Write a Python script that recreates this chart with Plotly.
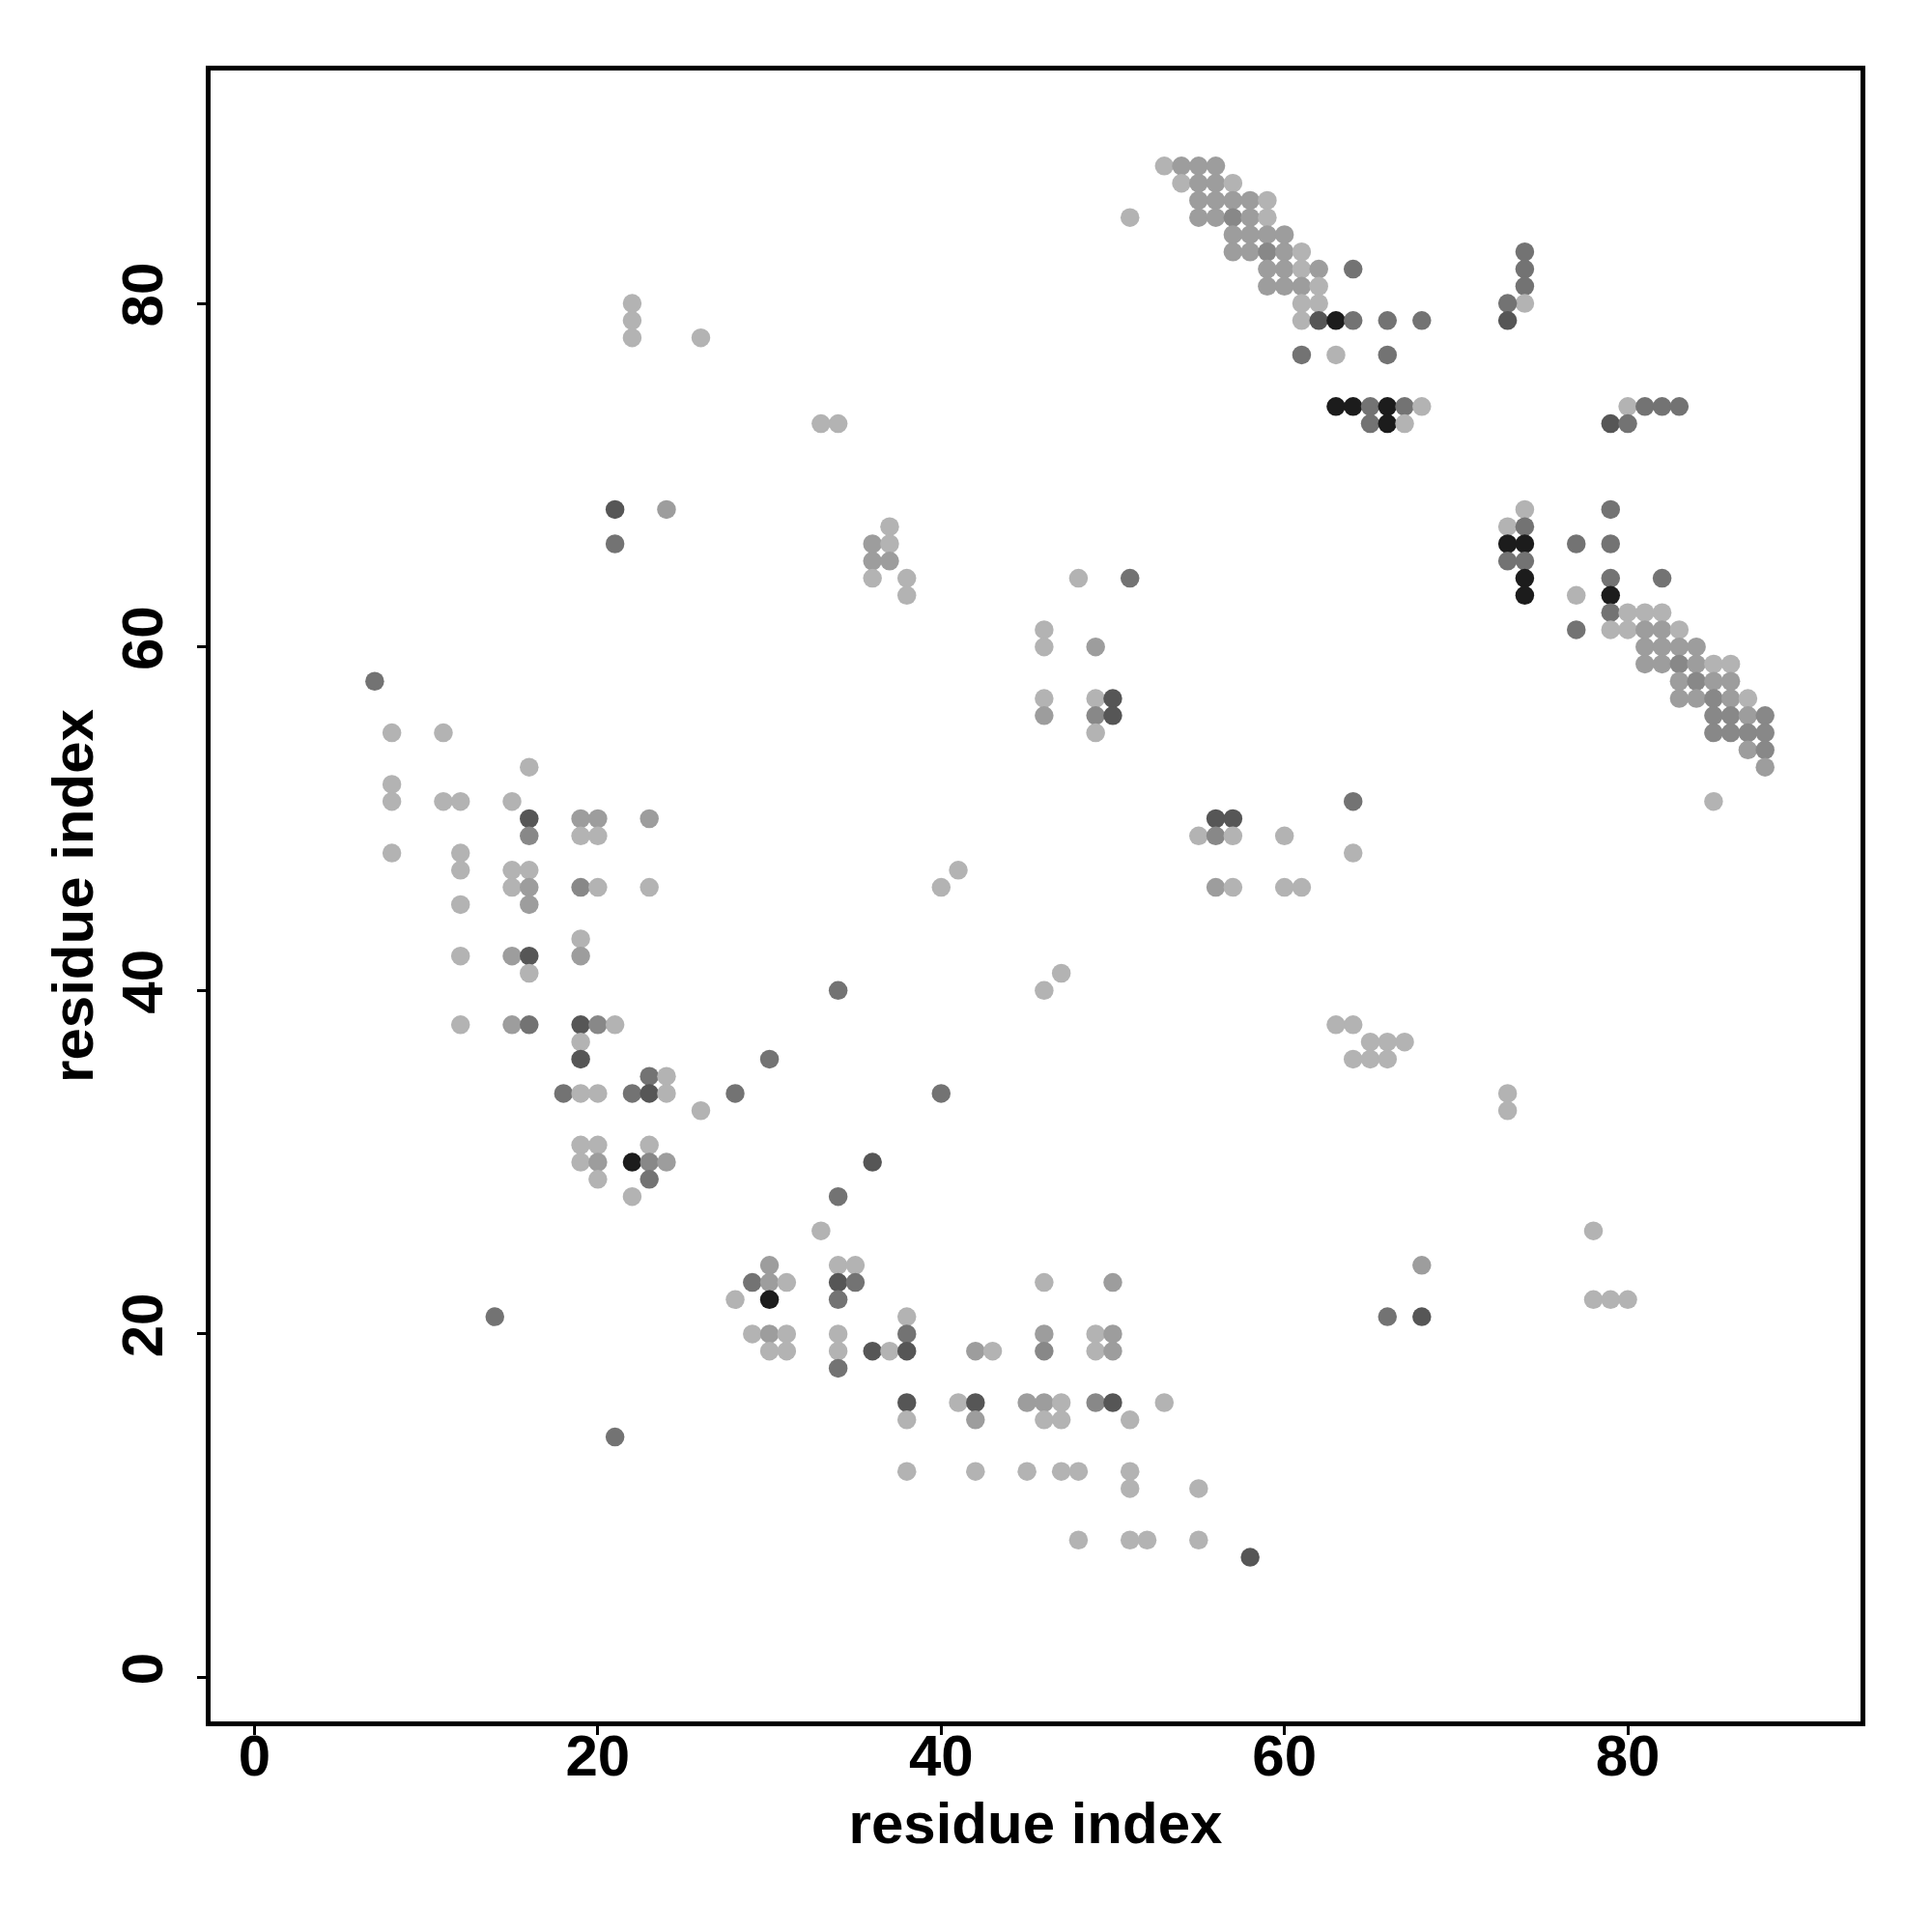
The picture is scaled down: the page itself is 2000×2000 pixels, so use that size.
import plotly.graph_objects as go

# contact map points: residue i (x), residue j (y), grey level (1 light .. 6 black)
x_res = [
    53, 54, 55, 56, 54, 55, 56, 57, 55, 56, 57, 58, 59, 55, 56, 57, 58, 59,
    57, 58, 59, 60, 57, 58, 59, 60, 61, 59, 60, 61, 62, 64, 59, 60, 61, 62,
    61, 62, 61, 62, 63, 64, 66, 68, 61, 63, 66, 63, 64, 65, 66, 67, 68, 65, 66, 67, 51,
    74, 74, 74, 74, 73, 73, 80, 81, 82, 83, 79, 80,
    74, 79, 73, 74, 73, 74, 77, 79, 73, 74, 74, 79, 82, 74, 77, 79,
    79, 80, 81, 82, 77, 79, 80, 81, 82, 83, 81, 82, 83, 84,
    81, 82, 83, 84, 85, 86, 83, 84, 85, 86, 83, 84, 85, 86, 87,
    85, 86, 87, 88, 85, 86, 87, 88, 87, 88, 88, 85,
    21, 24, 21, 37, 36, 37, 36, 37, 36, 38, 38, 22, 22, 22, 26, 33, 34,
    48, 51, 46, 46, 49, 46, 46, 49, 49, 49, 50, 50,
    56, 57, 55, 56, 57, 60, 56, 57, 60, 61, 64, 64, 41, 40, 47, 46,
    63, 64, 65, 66, 67, 64, 65, 66,
    7, 8, 11, 16, 8, 8, 11, 12, 15, 16, 19, 20, 23, 16, 19, 20, 8, 12,
    12, 15, 16, 15, 16, 19, 20, 23, 12, 16, 19, 12, 15, 16, 19, 16,
    12, 15, 16, 19, 20, 21, 19, 19, 23, 24, 18, 19, 20, 22, 23, 24, 28,
    26, 19, 20, 23, 19, 20, 22, 23, 24, 20, 23, 22,
    30, 40, 36, 34, 34, 33, 14, 21,
    30, 34, 35, 29, 30, 31, 34, 35, 28, 30, 34, 38, 29, 30, 31, 34, 38,
    30, 31, 34, 36, 37, 38, 34, 38, 38, 38,
    41, 42, 42, 42, 42, 43, 45, 46, 47, 46, 47, 45, 47, 48,
    46, 46, 46, 49, 50, 49, 50, 50, 49, 50, 53, 51, 51, 51, 55,
    48, 51, 52, 55, 58,
    66, 68, 68, 78, 78, 79, 80, 73, 73,
]
y_res = [
    88, 88, 88, 88, 87, 87, 87, 87, 86, 86, 86, 86, 86, 85, 85, 85, 85, 85,
    84, 84, 84, 84, 83, 83, 83, 83, 83, 82, 82, 82, 82, 82, 81, 81, 81, 81,
    80, 80, 79, 79, 79, 79, 79, 79, 77, 77, 77, 74, 74, 74, 74, 74, 74, 73, 73, 73, 85,
    83, 82, 81, 80, 80, 79, 74, 74, 74, 74, 73, 73,
    68, 68, 67, 67, 66, 66, 66, 66, 65, 65, 64, 64, 64, 63, 63, 63,
    62, 62, 62, 62, 61, 61, 61, 61, 61, 61, 60, 60, 60, 60,
    59, 59, 59, 59, 59, 59, 58, 58, 58, 58, 57, 57, 57, 57, 57,
    56, 56, 56, 56, 55, 55, 55, 55, 54, 54, 53, 51,
    68, 68, 66, 67, 66, 66, 65, 65, 64, 64, 63, 80, 79, 78, 78, 73, 73,
    64, 64, 61, 60, 60, 57, 56, 57, 56, 55, 57, 56,
    50, 50, 49, 49, 49, 49, 46, 46, 46, 46, 51, 48, 47, 46, 41, 40,
    38, 38, 37, 37, 37, 36, 36, 36,
    58, 55, 55, 53, 52, 51, 51, 51, 51, 50, 50, 50, 50, 49, 49, 49, 48, 48,
    47, 47, 47, 46, 46, 46, 46, 46, 45, 45, 43, 42, 42, 42, 42, 41,
    38, 38, 38, 38, 38, 38, 37, 36, 35, 35, 34, 34, 34, 34, 34, 34, 34,
    33, 31, 31, 31, 30, 30, 30, 30, 30, 29, 29, 28,
    36, 34, 30, 28, 40, 26, 21, 14,
    24, 24, 24, 23, 23, 23, 23, 23, 22, 22, 22, 21, 20, 20, 20, 20, 20,
    19, 19, 19, 19, 19, 19, 18, 16, 15, 12,
    16, 16, 15, 12, 19, 19, 16, 16, 16, 15, 15, 12, 12, 12,
    23, 20, 19, 20, 20, 19, 19, 23, 16, 16, 16, 15, 12, 11, 11,
    8, 8, 8, 8, 7,
    21, 21, 24, 26, 22, 22, 22, 34, 33,
]
grey_level = [
    1, 2, 2, 2, 1, 2, 2, 1, 2, 2, 2, 2, 1, 2, 2, 3, 2, 1,
    2, 2, 2, 2, 2, 2, 3, 2, 1, 2, 2, 1, 2, 4, 2, 2, 2, 1,
    1, 1, 1, 5, 6, 4, 4, 4, 4, 1, 4, 6, 6, 4, 6, 4, 1, 4, 6, 1, 1,
    4, 4, 4, 1, 4, 5, 1, 4, 4, 4, 5, 4,
    1, 4, 1, 4, 6, 6, 4, 4, 4, 4, 6, 4, 4, 6, 1, 6,
    4, 1, 1, 1, 4, 1, 1, 2, 2, 1, 2, 2, 2, 2,
    2, 2, 3, 2, 1, 1, 2, 3, 2, 2, 2, 2, 3, 2, 1,
    3, 3, 2, 3, 3, 3, 3, 3, 2, 3, 2, 1,
    5, 2, 4, 1, 2, 1, 2, 2, 1, 1, 1, 1, 1, 1, 1, 1, 1,
    1, 4, 1, 1, 2, 1, 2, 1, 3, 1, 5, 5,
    5, 5, 1, 3, 1, 1, 2, 1, 1, 1, 4, 1, 1, 1, 1, 1,
    1, 1, 1, 1, 1, 1, 1, 1,
    4, 1, 1, 1, 1, 1, 1, 1, 1, 5, 2, 2, 2, 3, 1, 1, 1, 1,
    1, 1, 1, 1, 2, 3, 1, 1, 1, 2, 1, 1, 2, 5, 2, 1,
    1, 2, 4, 5, 3, 1, 1, 5, 4, 1, 4, 1, 1, 4, 5, 1, 4,
    1, 1, 1, 1, 1, 2, 6, 3, 2, 1, 4, 1,
    4, 4, 5, 4, 4, 1, 4, 4,
    2, 1, 1, 4, 2, 1, 5, 4, 1, 6, 4, 1, 1, 2, 1, 1, 4,
    1, 1, 1, 5, 1, 5, 4, 5, 1, 1,
    1, 5, 2, 1, 2, 1, 2, 2, 1, 1, 1, 1, 1, 1,
    1, 2, 3, 1, 2, 1, 2, 2, 3, 5, 1, 1, 1, 1, 1,
    1, 1, 1, 1, 5,
    4, 5, 2, 1, 1, 1, 1, 1, 1,
]

tick_values = [0, 20, 40, 60, 80]
axis_title = "residue index"

grey_palette = {1: "#b3b3b3", 2: "#9d9d9d", 3: "#888888", 4: "#737373", 5: "#565656", 6: "#1c1c1c"}
colors = [grey_palette[g] for g in grey_level]

fig = go.Figure(go.Scatter(
    x=x_res, y=y_res, mode="markers",
    marker=dict(size=19.5, color=colors, line=dict(width=0)),
    showlegend=False, hoverinfo="x+y",
))

font_family = "Liberation Sans, Arial, Helvetica, sans-serif"
axis_common = dict(
    tickvals=tick_values,
    ticks="outside", ticklen=9, tickwidth=2.5, tickcolor="black",
    showline=True, linewidth=4.5, linecolor="black", mirror=True,
    showgrid=False, zeroline=False,
    tickfont=dict(family=font_family, size=60, color="black", weight="bold"),
    range=[-2.56, 93.56],
)

fig.update_layout(
    width=2000, height=2000,
    paper_bgcolor="white", plot_bgcolor="white",
    margin=dict(l=210, r=82, t=65, b=226, pad=0),
    xaxis=dict(**axis_common, ticklabelstandoff=-30,
               title=dict(text=axis_title, standoff=18,
                          font=dict(family=font_family, size=60, color="black", weight="bold"))),
    yaxis=dict(**axis_common, tickangle=-90, ticklabelstandoff=12,
               title=dict(text=axis_title, standoff=0,
                          font=dict(family=font_family, size=60, color="black", weight="bold"))),
)

fig.write_html("out.html")
